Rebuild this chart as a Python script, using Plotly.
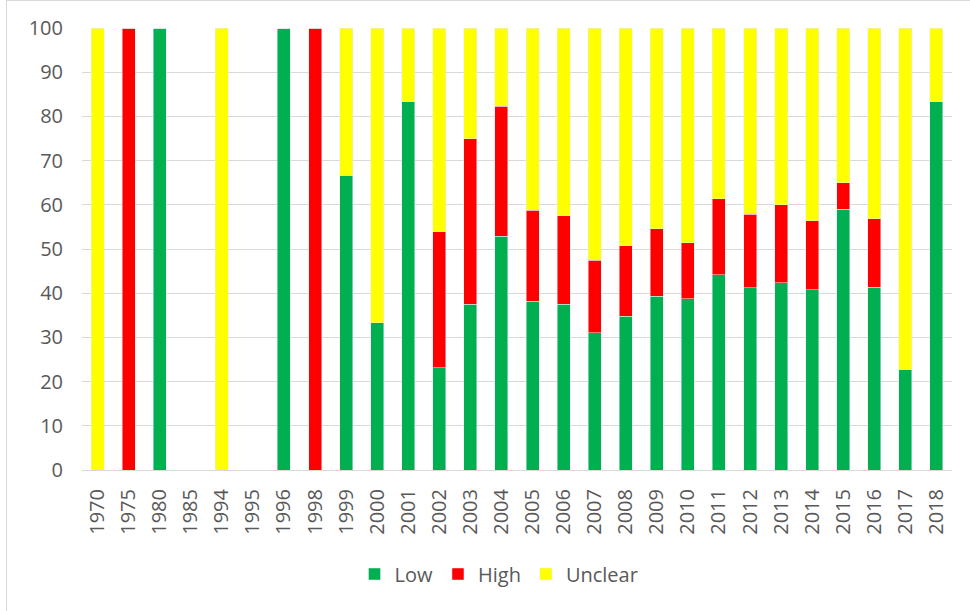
import plotly.graph_objects as go

years = ["1970", "1975", "1980", "1985", "1994", "1995", "1996", "1998", "1999", "2000",
         "2001", "2002", "2003", "2004", "2005", "2006", "2007", "2008", "2009", "2010",
         "2011", "2012", "2013", "2014", "2015", "2016", "2017", "2018"]
low = [0, 0, 100, 0, 0, 0, 100, 0, 66.7, 33.3,
       83.3, 23.1, 37.5, 52.9, 38.2, 37.5, 31.1, 34.8, 39.3, 38.7,
       44.2, 41.2, 42.4, 40.8, 59.0, 41.4, 22.7, 83.3]
high = [0, 100, 0, 0, 0, 0, 0, 100, 0, 0,
        0, 30.8, 37.5, 29.4, 20.6, 20.0, 16.4, 15.9, 15.3, 12.7,
        17.2, 16.7, 17.6, 15.6, 6.0, 15.4, 0, 0]
unclear = [100, 0, 0, 0, 100, 0, 0, 0, 33.3, 66.7,
           16.7, 46.1, 25.0, 17.7, 41.2, 42.5, 52.5, 49.3, 45.4, 48.6,
           38.6, 42.1, 40.0, 43.6, 35.0, 43.2, 77.3, 16.7]

fig = go.Figure()
fig.add_trace(go.Bar(x=years, y=low, name="Low", marker_color="#00B050"))
fig.add_trace(go.Bar(x=years, y=high, name="High", marker_color="#FF0000"))
fig.add_trace(go.Bar(x=years, y=unclear, name="Unclear", marker_color="#FFFF00"))

W, H = 970, 611
L, R, T, B = 82, 18, 28, 141
pw, ph = W - L - R, H - T - B

def px(x):
    return (x - L) / pw

def py(y):
    return (H - B - y) / ph

fig.update_layout(
    width=W, height=H,
    barmode="stack", bargap=0.58,
    margin=dict(l=L, r=R, t=T, b=B),
    plot_bgcolor="white", paper_bgcolor="white",
    font=dict(family="Open Sans", size=20, color="#595959"),
    xaxis=dict(type="category", tickangle=-90, showgrid=False, showline=True,
               linecolor="#D9D9D9", linewidth=1, ticks="", ticklabelstandoff=10,
               tickfont=dict(size=20)),
    yaxis=dict(range=[0, 100], dtick=10, showgrid=True, gridcolor="#D9D9D9",
               gridwidth=1, zeroline=False, ticks="", ticklabelstandoff=18,
               tickfont=dict(size=20)),
    legend=dict(orientation="h", x=px(499), xanchor="center", y=py(574), yanchor="middle",
                font=dict(size=20, color="#595959"), traceorder="normal",
                itemwidth=30),
    shapes=[
        dict(type="line", xref="paper", yref="paper", x0=px(6.5), x1=px(6.5), y0=py(611), y1=py(0),
             line=dict(color="#D9D9D9", width=1)),
        dict(type="line", xref="paper", yref="paper", x0=px(6), x1=px(970), y0=py(0.5), y1=py(0.5),
             line=dict(color="#D9D9D9", width=1)),
    ],
)

fig.write_html("out.html", config={"displayModeBar": False},
               post_script="document.body.style.margin='0';document.body.style.overflow='hidden';")
